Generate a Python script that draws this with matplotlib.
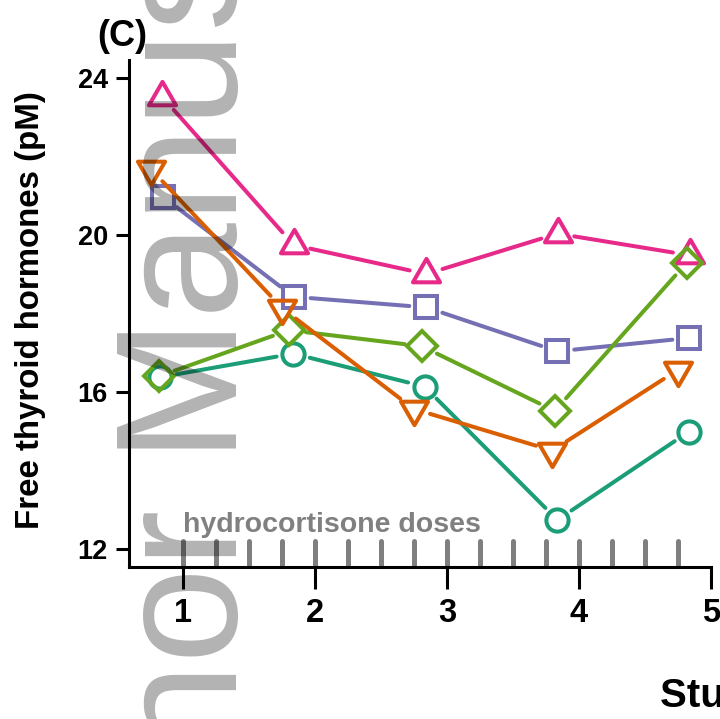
import numpy as np
import matplotlib
matplotlib.use("Agg")
import matplotlib.pyplot as plt
from matplotlib.path import Path

plt.rcParams['font.family'] = ['Liberation Sans', 'DejaVu Sans']

# ---- data ----
days_teal   = [0.823, 1.834, 2.829, 3.836, 4.832]
vals_teal   = [16.38, 16.98, 16.14, 12.74, 14.99]
days_purple = [0.846, 1.837, 2.842, 3.836, 4.836]
vals_purple = [20.98, 18.43, 18.16, 17.04, 17.38]
days_pink   = [0.842, 1.837, 2.842, 3.837, 4.839]
vals_pink   = [23.52, 19.75, 19.01, 20.04, 19.49]
days_green  = [0.812, 1.801, 2.807, 3.816, 4.817]
vals_green  = [16.40, 17.58, 17.17, 15.52, 19.30]
days_orange = [0.753, 1.750, 2.747, 3.797, 4.751]
vals_orange = [21.69, 18.14, 15.57, 14.51, 16.57]

dose_times = [1.0, 1.25, 1.5, 1.75, 2.0, 2.25, 2.5, 2.75, 3.0, 3.25,
              3.5, 3.75, 4.0, 4.25, 4.5, 4.75]
xticks = [1, 2, 3, 4, 5]
yticks = [12, 16, 20, 24]

DPI = 100
W, H = 720, 719
fig = plt.figure(figsize=(W / DPI, H / DPI), dpi=DPI)

def fx(px):
    return px / W

def fy(py):
    return (H - py) / H

ax_l, ax_r, ax_t, ax_b = 129, 720, 60, 567
ax = fig.add_axes([fx(ax_l), fy(ax_b), fx(ax_r) - fx(ax_l), fy(ax_t) - fy(ax_b)])
xlim = (0.5883, 5.069)
ylim = (11.541, 24.467)
ax.set_xlim(*xlim)
ax.set_ylim(*ylim)

for s in ['top', 'right']:
    ax.spines[s].set_visible(False)
for s in ['left', 'bottom']:
    ax.spines[s].set_linewidth(2.2)
ax.spines['bottom'].set_bounds(xlim[0], 5)

ax.set_xticks(xticks)
ax.set_yticks(yticks)
ax.set_xticklabels([str(v) for v in xticks], fontsize=23.5, fontweight='bold')
ax.set_yticklabels([str(v) for v in yticks], fontsize=19.5, fontweight='bold')
ax.tick_params(axis='x', length=15.8, width=2.2, pad=6.5)
ax.tick_params(axis='y', length=9.4, width=2.2, pad=5.8)

# hydrocortisone doses
ax.vlines(dose_times, ylim[0] + 0.06, 12.21, colors='#7f7f7f', linewidth=3.6,
          capstyle='round', zorder=2)
ax.text(1.0, 12.43, 'hydrocortisone doses', color='#808080', fontsize=20.5,
        fontweight='bold', ha='left', va='baseline')

up_tri = Path([(0, 1), (-0.866, -0.5), (0.866, -0.5), (0, 1)],
              [Path.MOVETO, Path.LINETO, Path.LINETO, Path.CLOSEPOLY])
dn_tri = Path([(0, -1), (-0.866, 0.5), (0.866, 0.5), (0, -1)],
              [Path.MOVETO, Path.LINETO, Path.LINETO, Path.CLOSEPOLY])

series = [
    (days_teal, vals_teal, '#1B9E77', 'o', 16.0),
    (days_purple, vals_purple, '#7570B3', 's', 16.0),
    (days_pink, vals_pink, '#E7298A', up_tri, 22.5),
    (days_green, vals_green, '#66A61E', 'D', 15.6),
    (days_orange, vals_orange, '#D95F02', dn_tri, 22.5),
]

GAP = 17.0  # px
inv = ax.transData.inverted()
z = 3
for xs, ys, col, mk, ms in series:
    pts = ax.transData.transform(np.column_stack([xs, ys]))
    for i in range(len(pts) - 1):
        p0, p1 = pts[i], pts[i + 1]
        d = p1 - p0
        L = np.hypot(*d)
        if L <= 2 * GAP:
            continue
        u = d / L
        seg = inv.transform(np.array([p0 + u * GAP, p1 - u * GAP]))
        ax.plot(seg[:, 0], seg[:, 1], color=col, lw=2.9,
                solid_capstyle='round', clip_on=False, zorder=z)
    ax.plot(xs, ys, linestyle='none', marker=mk, markersize=ms,
            markerfacecolor='none', markeredgecolor=col, markeredgewidth=2.9,
            clip_on=False, zorder=z)
    z += 0.1

# panel label, axis labels
fig.text(fx(97), fy(46), '(C)', fontsize=26, fontweight='bold',
         ha='left', va='baseline')
fig.text(fx(39), fy(310), 'Free thyroid hormones (pM)', fontsize=23.8,
         fontweight='bold', rotation=90, rotation_mode='anchor',
         ha='center', va='baseline')
fig.text(fx(660), fy(707), 'Study day', fontsize=29, fontweight='bold',
         ha='left', va='baseline')

# watermark
fig.text(fx(237), fy(1017), 'Author Manuscript', fontsize=124, color='black',
         alpha=0.3, rotation=90, rotation_mode='anchor', ha='left',
         va='baseline', zorder=10)

fig.savefig('out.png', dpi=DPI)
